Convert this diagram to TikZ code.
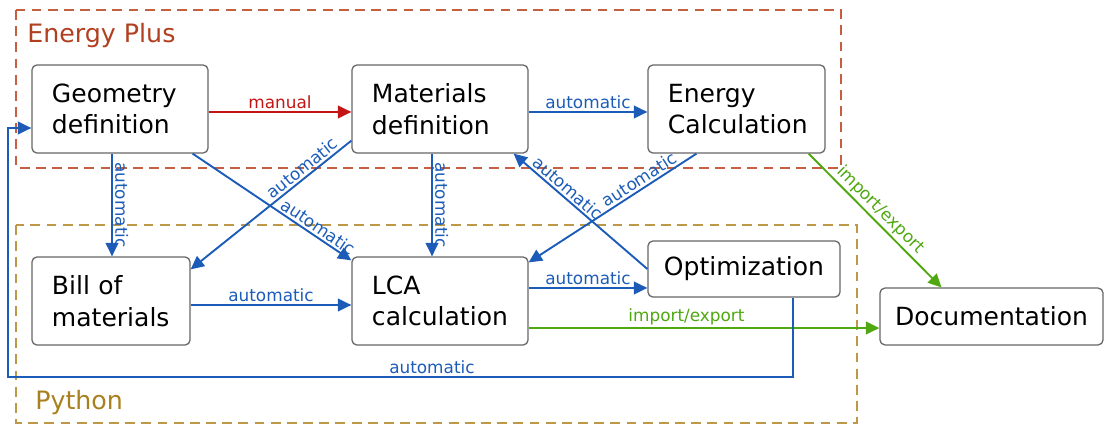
\documentclass[tikz,border=0pt]{standalone}
\usepackage{fontspec}
\setmainfont{DejaVu Sans}
\usetikzlibrary{arrows.meta}

\definecolor{autoblue}{RGB}{28,92,184}
\definecolor{manred}{RGB}{196,20,20}
\definecolor{iogreen}{RGB}{80,168,16}
\definecolor{epframe}{RGB}{196,96,64}
\definecolor{eptext}{RGB}{176,64,32}
\definecolor{pyframe}{RGB}{188,152,72}
\definecolor{pytext}{RGB}{168,128,32}

\newcommand{\boxfont}{\fontsize{17.8}{22.5}\selectfont}
\newcommand{\lblfont}{\fontsize{12}{13.5}\selectfont}
\newcommand{\grpfont}{\fontsize{18}{22}\selectfont}

\tikzset{
  stage/.style={draw=black!60, line width=0.9pt, rounded corners=3.5pt, fill=white,
    align=left, font=\boxfont, minimum height=2.2cm, inner xsep=0.5cm, text width=#1},
  stage/.default=3.4cm,
  endstage/.style={draw=black!60, line width=0.9pt, rounded corners=3.5pt, fill=white,
    font=\boxfont, minimum height=1.42cm, minimum width=#1},
  flow/.style={draw=#1, line width=1.35pt, -{Triangle[length=9.5pt,width=9pt]}},
  tag/.style={font=\lblfont, text=#1, inner sep=1.5pt},
  toolframe/.style={draw=#1, line width=1.3pt, dash pattern=on 7pt off 4.5pt},
}

\begin{document}
\begin{tikzpicture}[x=0.025cm,y=-0.025cm]
\useasboundingbox (0,0) rectangle (1104,425);
% the two tool frames
\draw[toolframe=epframe] (16,10) rectangle (841,168);
\draw[toolframe=pyframe] (16,225) rectangle (857,423);
\node[anchor=base west, font=\grpfont, text=eptext, inner sep=0pt] (eplus) at (27,43) {Energy Plus};
\node[anchor=base west, font=\grpfont, text=pytext, inner sep=0pt] (python) at (35,410) {Python};
% the stages
\node[stage] (geo) at (120,109) {Geometry\\definition};
\node[stage] (mat) at (440,109) {Materials\\definition};
\node[stage=3.425cm] (en) at (736.5,109) {Energy\\Calculation};
\node[stage=2.95cm] (bill) at (111,301) {Bill of\\materials};
\node[stage] (lca) at (440,301) {LCA\\calculation};
\node[endstage=4.8cm, minimum height=1.4cm] (opt) at (744,269) {Optimization};
\node[endstage=5.575cm] (doc) at (991.5,316.5) {Documentation};
% straight hand-overs
\draw[flow=manred] ([yshift=-0.075cm]geo.east) -- ([yshift=-0.075cm]mat.west)
  node[midway, above, tag=manred] {manual};
\draw[flow=autoblue] ([yshift=-0.075cm]mat.east) -- ([yshift=-0.075cm]en.west)
  node[midway, above, tag=autoblue] {automatic};
\draw[flow=autoblue] ([xshift=-0.2cm]geo.south) -- ([xshift=-0.2cm]geo.south |- bill.north)
  node[midway, sloped, above, tag=autoblue] {automatic};
\draw[flow=autoblue] ([xshift=-0.2cm]mat.south) -- ([xshift=-0.2cm]mat.south |- lca.north)
  node[midway, sloped, above, tag=autoblue] {automatic};
\draw[flow=autoblue] ([yshift=-0.1cm]bill.east) -- ([yshift=-0.1cm]bill.east -| lca.west)
  node[midway, above, tag=autoblue] {automatic};
\draw[flow=autoblue] ([yshift=0.325cm]lca.east) -- ([yshift=0.325cm]lca.east -| opt.west)
  node[midway, above, tag=autoblue] {automatic};
% the crossing ones
\draw[flow=autoblue] ([xshift=-0.4cm]geo.south east) -- ([yshift=-0.1cm]lca.north west)
  node[pos=0.76, sloped, above, tag=autoblue] {automatic};
\draw[flow=autoblue] ([yshift=0.325cm]mat.south west) -- ([yshift=-0.325cm]bill.north east)
  node[pos=0.27, sloped, above, tag=autoblue] {automatic};
\draw[flow=autoblue] ([xshift=-1cm]en.south) -- ([yshift=-0.15cm]lca.north east)
  node[pos=0.31, sloped, above, tag=autoblue] {automatic};
\draw[flow=autoblue] (opt.west) -- ([xshift=-0.375cm]mat.south east)
  node[pos=0.64, sloped, above, tag=autoblue] {automatic};
% out to the documentation
\draw[flow=iogreen] ([yshift=-0.675cm]lca.east) -- ([yshift=-0.675cm]lca.east -| doc.west)
  node[pos=0.45, above, tag=iogreen] {import/export};
\draw[flow=iogreen] ([xshift=-0.425cm]en.south east) -- ([xshift=-1.25cm]doc.north)
  node[pos=0.48, sloped, above, tag=iogreen] {import/export};
% feedback loop back to the geometry
\draw[flow=autoblue] ([xshift=1.225cm]opt.south) |- (8,377)
  node[pos=0.73, above, tag=autoblue] {automatic} |- ([yshift=-0.475cm]geo.west);
\end{tikzpicture}
\end{document}
